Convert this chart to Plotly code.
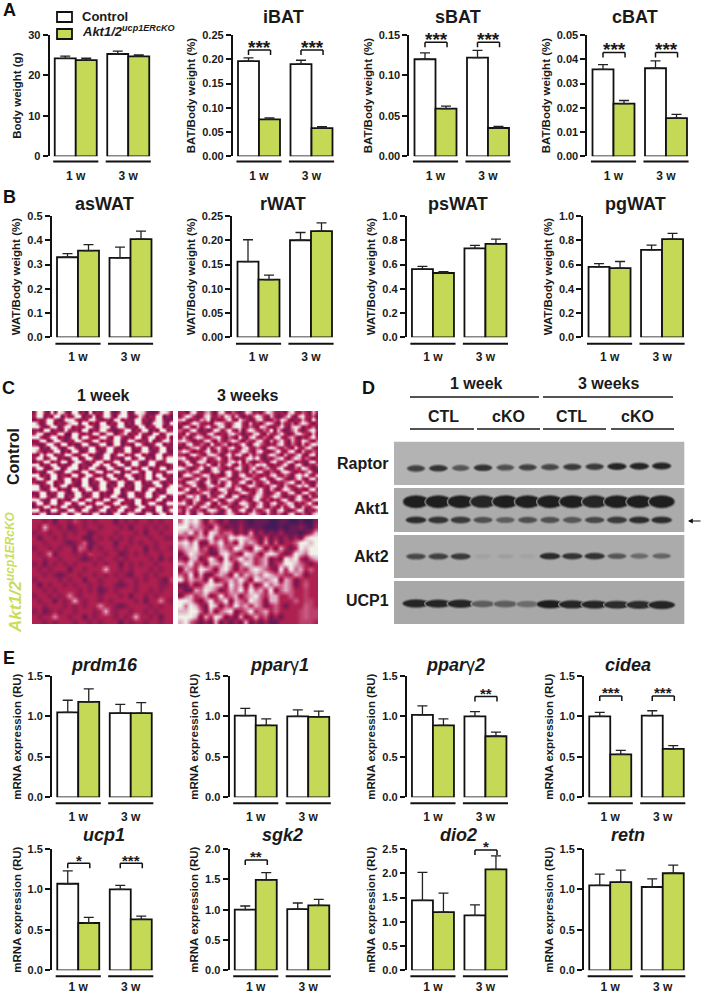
#Multi panel figure: body weight, fat depots, histology, western blot and mRNA expression
import plotly.graph_objects as go

W = 703
H = 994
FONT = "Liberation Sans"
GREEN = "#C5D957"
DARK = "#1a1a1a"

weeks = ["1 w", "3 w"]

################################################# bar values ##########################################
body_ctl = [24.2, 25.3]
body_ctl_err = [0.6, 0.7]
body_ko = [23.8, 24.7]
body_ko_err = [0.45, 0.35]

ibat_ctl = [0.196, 0.190]
ibat_ctl_err = [0.007, 0.008]
ibat_ko = [0.076, 0.058]
ibat_ko_err = [0.003, 0.003]

sbat_ctl = [0.120, 0.122]
sbat_ctl_err = [0.008, 0.009]
sbat_ko = [0.059, 0.035]
sbat_ko_err = [0.003, 0.002]

cbat_ctl = [0.0358, 0.0363]
cbat_ctl_err = [0.002, 0.003]
cbat_ko = [0.0217, 0.0157]
cbat_ko_err = [0.0013, 0.0016]

aswat_ctl = [0.330, 0.327]
aswat_ctl_err = [0.015, 0.045]
aswat_ko = [0.357, 0.405]
aswat_ko_err = [0.025, 0.033]

rwat_ctl = [0.156, 0.200]
rwat_ctl_err = [0.045, 0.016]
rwat_ko = [0.119, 0.219]
rwat_ko_err = [0.009, 0.017]

pswat_ctl = [0.562, 0.733]
pswat_ctl_err = [0.022, 0.025]
pswat_ko = [0.530, 0.770]
pswat_ko_err = [0.012, 0.040]

pgwat_ctl = [0.58, 0.72]
pgwat_ctl_err = [0.028, 0.040]
pgwat_ko = [0.57, 0.81]
pgwat_ko_err = [0.055, 0.047]

prdm16_ctl = [1.05, 1.04]
prdm16_ctl_err = [0.15, 0.11]
prdm16_ko = [1.18, 1.04]
prdm16_ko_err = [0.16, 0.13]

pparg1_ctl = [1.01, 1.00]
pparg1_ctl_err = [0.09, 0.08]
pparg1_ko = [0.89, 0.995]
pparg1_ko_err = [0.08, 0.07]

pparg2_ctl = [1.02, 1.00]
pparg2_ctl_err = [0.11, 0.06]
pparg2_ko = [0.89, 0.755]
pparg2_ko_err = [0.08, 0.05]

cidea_ctl = [1.00, 1.01]
cidea_ctl_err = [0.05, 0.06]
cidea_ko = [0.53, 0.60]
cidea_ko_err = [0.05, 0.04]

ucp1_ctl = [1.07, 1.00]
ucp1_ctl_err = [0.16, 0.05]
ucp1_ko = [0.585, 0.63]
ucp1_ko_err = [0.07, 0.04]

sgk2_ctl = [1.00, 1.01]
sgk2_ctl_err = [0.06, 0.10]
sgk2_ko = [1.49, 1.07]
sgk2_ko_err = [0.12, 0.10]

dio2_ctl = [1.44, 1.13]
dio2_ctl_err = [0.58, 0.22]
dio2_ko = [1.20, 2.08]
dio2_ko_err = [0.39, 0.28]

retn_ctl = [1.05, 1.03]
retn_ctl_err = [0.14, 0.10]
retn_ko = [1.09, 1.20]
retn_ko_err = [0.15, 0.10]

################################################# blot band darkness ##################################
raptor_bands = [0.75, 0.85, 0.60, 0.85, 0.65, 0.75, 0.70, 0.80, 0.80, 0.95, 0.95, 0.95]
akt1_top_bands = [1.0, 1.0, 1.0, 0.95, 1.0, 1.0, 1.0, 1.0, 0.95, 1.0, 1.0, 1.0]
akt1_low_bands = [0.90, 0.85, 0.80, 0.65, 0.55, 0.65, 0.65, 0.60, 0.70, 0.80, 0.90, 0.90]
akt2_bands = [0.70, 0.75, 0.80, 0.06, 0.08, 0.05, 0.90, 0.85, 0.85, 0.60, 0.45, 0.50]
ucp1_bands = [0.95, 0.95, 0.95, 0.55, 0.55, 0.45, 1.0, 0.95, 0.95, 0.90, 0.90, 0.95]

################################################# histology tones (0 dark .. 9 pale) ##################
ctl_1w_tissue = [
    "2993192983199230913299213991299831129973",
    "3991319915239913291399318992139513299131",
    "1323993129993132993123199132299231399212",
    "9513991323799199131991329913199312899319",
    "9931299139913229931899139931319913299132",
    "2319913229323199132993212399132991319923",
    "3992132991099313299139913591329321991399",
    "9931399131299199312993199313199139913291",
    "1299129931329931399132399129931329123993",
    "3213993199131299213991299132199312399132",
    "9913199312993132991329931399132991329913",
    "9531329913199213993139913299213993139921",
    "2193991329931399131299139913299131299133",
    "3991399131299129931399132199139913199399",
    "1329913299139931329912399132993129931399",
    "9913299131299132199399139912993139913213",
    "3992139913999132993129931299132991329913",
    "1321993129931399139913299132993199133299",
    "9913299132199129931329913199313299199132",
    "2993199139913299139913991329913299139913",
    "3123991329932199132993129931399132993132",
    "9913291399131299313991329913199312399139",
    "9931399132199139912993199132199139913299",
    "1299132993139913299131299139913299131299",
    "3199313991329931399132993129931399139913",
    "9932199132199129913299139913299132199132",
    "2991399139913991329931399132199139931299",
    "1329913299131329913299132993139913299133",
    "9913199312993199313991329913299132199139",
    "3299132199139913299131299139931299139913",
]
ctl_3w_tissue = [
    "3317932573179325313972315973231793253173",
    "2597312793253972731325973173125931793251",
    "7931327591312593195312793125397213273193",
    "3125973231797325993172315973173251597313",
    "1793172593279317993253197312593179713252",
    "5327931313972593271597325391731259313793",
    "3193253179313279531327931732593127953172",
    "2731597325793153193179325317932573132593",
    "7953132793173259731532793172593173297315",
    "3179325319325713259317953132793153172597",
    "1325793171593279317932531797325319327931",
    "5973132593273153259731793125932793173253",
    "3217953179731592793172531597317325931792",
    "7931325932593173132795931325793159725313",
    "2593179713253279591731253179325971321793",
    "3179325393172593173253979313259317931325",
    "9731259317953132793159325732793125397312",
    "3253793125971793253172793153179731325931",
    "1797325971321593179325313279325317959327",
    "5312593173259731325973279315973125931793",
    "3179731593172593279317325931325793173215",
    "7325931279531792531597313279317325959317",
    "2593173253179732793132593173159731321793",
    "9731325971325913259731793125932793179325",
    "3179593173279317931325973259731325931723",
    "2532793125931597325317932513279317953179",
    "7931732593173253179731593179325971325931",
    "3259317951327931325932793153172593173279",
    "5173253179731593279317325931793125971325",
    "3293179325312597313279531732531793253179",
]
ko_1w_tissue = [
    "3323133243232333132323323233",
    "3273323123233233323133232323",
    "2332332323312333233323133233",
    "3133232333113232323233323322",
    "3323332123512333133232332333",
    "2332323315413233232333132332",
    "3236133323243323312323233233",
    "3323323332123233232333323132",
    "2313232323332323313232332333",
    "3232333133233373323233323233",
    "3323212332332323232133232333",
    "2333323233133233323323233214",
    "3132332323323233212323333223",
    "3323233332323123233323323233",
    "2332323632333233323133232333",
    "3233132373233232333323133632",
    "3323332323233633212333323233",
    "2312323323332373233233232333",
    "3233633233132333232373323133",
    "3323233323323233313233233233",
]
ko_3w_tissue = [
    "5979515313112101110011001002",
    "9957531731213111100010112103",
    "7593719735513171312131110137",
    "3515759353979753151313131799",
    "7959117593519575171513359979",
    "5779351375397319715173139799",
    "1597531179531975179731397599",
    "3177139519359573571319793157",
    "7593517759715973571359975313",
    "1753975179515379753193957353",
    "5391711575193757597553375133",
    "9375519135759519757917513433",
    "1151379772957171395757513533",
    "3117597513759395739157533433",
    "1573571393571579537733533433",
    "9973159359175397517733353443",
    "9597319715395737513531333543",
    "7799517157913593573533334544",
    "9997173971317137351313334544",
    "7953131713131713131133334443",
]

tissue_scale = [
    [0.0, "#431a58"], [0.2, "#831a52"], [0.33, "#ad1f4e"], [0.55, "#c95c84"],
    [0.77, "#dfb0c4"], [1.0, "#f0f4e8"],
]


def px_x(x):
    return x / W


def px_y(y):
    return 1 - y / H


def text(x, y, s, size=12, color=DARK, angle=0, xanchor="center"):
    return dict(x=px_x(x), y=px_y(y), xref="paper", yref="paper", text=s, showarrow=False,
                font=dict(family=FONT, size=size, color=color), textangle=angle,
                xanchor=xanchor, yanchor="middle")


def paper_line(x0, x1, y, width=1.5):
    return dict(type="line", xref="paper", yref="paper", x0=px_x(x0), x1=px_x(x1), y0=px_y(y), y1=px_y(y),
                line=dict(color=DARK, width=width))


fig = go.Figure()
shapes = []
annotations = []
layout = {}
GROUP_SPAN = 105
ROW_H = 121.3


################################################# bar panels ##########################################
#left is the pixel of the y axis, top is the pixel of the axis maximum
def add_panel(n, title, title_x, title_y, ylabel, ctl, ctl_err, ko, ko_err, ymax, step, fmt, left, top, base_y, sig=(), standoff=11):
    xa, ya = "x%d" % n, "y%d" % n
    for vals, errs, color, name in [(ctl, ctl_err, "white", "Control"), (ko, ko_err, GREEN, "Akt1/2 ucp1ERcKO")]:
        fig.add_trace(go.Bar(x=weeks, y=vals, name=name, xaxis=xa, yaxis=ya, showlegend=False,
                             marker=dict(color=color, line=dict(color="#111111", width=1.8)),
                             error_y=dict(type="data", array=errs, arrayminus=[0, 0], color="#222222",
                                          thickness=1.3, width=5)))
    layout["xaxis%d" % n] = dict(domain=[px_x(left), px_x(left + GROUP_SPAN)], anchor=ya, range=[-0.5, 1.5],
                                 type="category", showline=False, showgrid=False, zeroline=False, ticks="",
                                 ticklabelstandoff=standoff, fixedrange=True,
                                 tickfont=dict(family=FONT, size=12, color=DARK, weight="bold"))
    layout["yaxis%d" % n] = dict(domain=[px_y(top + ROW_H), px_y(top)], anchor=xa, range=[0, ymax], dtick=step,
                                 tick0=0, tickformat=fmt, showgrid=False, zeroline=False, showline=True,
                                 linecolor="#111111", linewidth=1.8, ticks="outside", ticklen=5, tickwidth=1.8,
                                 tickcolor="#111111", fixedrange=True,
                                 tickfont=dict(family=FONT, size=11, color=DARK, weight="bold"),
                                 title=dict(text="<b>%s</b>" % ylabel, standoff=4,
                                            font=dict(family=FONT, size=11.5, color=DARK)))
    annotations.append(text(title_x, title_y, title, size=18))
    #the thick rule under each week group
    for g in [0, 1]:
        shapes.append(dict(type="line", xref=xa, yref="paper", x0=g - 0.43, x1=g + 0.43,
                           y0=px_y(base_y), y1=px_y(base_y), line=dict(color="#111111", width=2)))
    #significance brackets
    leg = ymax * 5 / ROW_H
    for g, level, stars, size in sig:
        x0, x1 = g - 0.2, g + 0.22
        for sx0, sx1, sy0, sy1 in [(x0, x1, level, level), (x0, x0, level, level - leg), (x1, x1, level, level - leg)]:
            shapes.append(dict(type="line", xref=xa, yref=ya, x0=sx0, x1=sx1, y0=sy0, y1=sy1,
                               line=dict(color="#111111", width=1.5)))
        annotations.append(dict(x=g + 0.01, y=level, xref=xa, yref=ya, text="<b>%s</b>" % stars, showarrow=False,
                                font=dict(family=FONT, size=size, color=DARK), yanchor="middle", yshift=3))


TOP_A, BASE_A = 35, 161.5
TOP_B, BASE_B = 216, 343.7
TOP_E1, BASE_E1 = 676, 803.3
TOP_E2, BASE_E2 = 849, 976.3
BAT = "BAT/Body weight (%)"
WAT = "WAT/Body weight (%)"
RNA = "mRNA expression (RU)"

add_panel(1, "", 0, 0, "Body weight (g)", body_ctl, body_ctl_err, body_ko, body_ko_err, 30, 10, "d", 49.5, TOP_A, BASE_A)
add_panel(2, "<b>iBAT</b>", 283, 17, BAT, ibat_ctl, ibat_ctl_err, ibat_ko, ibat_ko_err, 0.25, 0.05, ".2f", 232.75, TOP_A, BASE_A,
          [(0, 0.219, "***", 19), (1, 0.219, "***", 19)])
add_panel(3, "<b>sBAT</b>", 458, 17, BAT, sbat_ctl, sbat_ctl_err, sbat_ko, sbat_ko_err, 0.15, 0.05, ".2f", 409.25, TOP_A, BASE_A,
          [(0, 0.141, "***", 19), (1, 0.141, "***", 19)])
add_panel(4, "<b>cBAT</b>", 635, 17, BAT, cbat_ctl, cbat_ctl_err, cbat_ko, cbat_ko_err, 0.05, 0.01, ".2f", 587.25, TOP_A, BASE_A,
          [(0, 0.0428, "***", 19), (1, 0.0428, "***", 19)])

add_panel(5, "<b>asWAT</b>", 104, 204, WAT, aswat_ctl, aswat_ctl_err, aswat_ko, aswat_ko_err, 0.5, 0.1, ".1f", 51.75, TOP_B, BASE_B)
add_panel(6, "<b>rWAT</b>", 283, 204, WAT, rwat_ctl, rwat_ctl_err, rwat_ko, rwat_ko_err, 0.25, 0.05, ".2f", 232.25, TOP_B, BASE_B)
add_panel(7, "<b>psWAT</b>", 458, 204, WAT, pswat_ctl, pswat_ctl_err, pswat_ko, pswat_ko_err, 1.0, 0.2, ".1f", 406.7, TOP_B, BASE_B)
add_panel(8, "<b>pgWAT</b>", 635, 204, WAT, pgwat_ctl, pgwat_ctl_err, pgwat_ko, pgwat_ko_err, 1.0, 0.2, ".1f", 583.3, TOP_B, BASE_B)

add_panel(9, "<b><i>prdm16</i></b>", 104, 665, RNA, prdm16_ctl, prdm16_ctl_err, prdm16_ko, prdm16_ko_err, 1.5, 0.5, ".1f", 52, TOP_E1, BASE_E1)
add_panel(10, "<b><i>ppar</i></b>γ<b><i>1</i></b>", 279, 665, RNA, pparg1_ctl, pparg1_ctl_err, pparg1_ko, pparg1_ko_err, 1.5, 0.5, ".1f", 229.5, TOP_E1, BASE_E1)
add_panel(11, "<b><i>ppar</i></b>γ<b><i>2</i></b>", 455, 665, RNA, pparg2_ctl, pparg2_ctl_err, pparg2_ko, pparg2_ko_err, 1.5, 0.5, ".1f", 406.7, TOP_E1, BASE_E1,
          [(1, 1.245, "**", 15)])
add_panel(12, "<b><i>cidea</i></b>", 628, 665, RNA, cidea_ctl, cidea_ctl_err, cidea_ko, cidea_ko_err, 1.5, 0.5, ".1f", 584, TOP_E1, BASE_E1,
          [(0, 1.253, "***", 15), (1, 1.253, "***", 15)])

#the last row sits close to the page edge, so its week labels stay a little nearer the bars
add_panel(13, "<b><i>ucp1</i></b>", 104, 835, RNA, ucp1_ctl, ucp1_ctl_err, ucp1_ko, ucp1_ko_err, 1.5, 0.5, ".1f", 52, TOP_E2, BASE_E2,
          [(0, 1.323, "*", 15), (1, 1.323, "***", 15)], standoff=8)
add_panel(14, "<b><i>sgk2</i></b>", 282, 835, RNA, sgk2_ctl, sgk2_ctl_err, sgk2_ko, sgk2_ko_err, 2.0, 0.5, ".1f", 229.5, TOP_E2, BASE_E2,
          [(0, 1.82, "**", 15)], standoff=8)
add_panel(15, "<b><i>dio2</i></b>", 458, 835, RNA, dio2_ctl, dio2_ctl_err, dio2_ko, dio2_ko_err, 2.5, 0.5, ".1f", 406.7, TOP_E2, BASE_E2,
          [(1, 2.48, "*", 15)], standoff=8)
add_panel(16, "<b><i>retn</i></b>", 628, 835, RNA, retn_ctl, retn_ctl_err, retn_ko, retn_ko_err, 1.5, 0.5, ".1f", 584, TOP_E2, BASE_E2, standoff=8)

#legend of panel A
shapes.append(dict(type="rect", xref="paper", yref="paper", x0=px_x(57), x1=px_x(72), y0=px_y(22), y1=px_y(12),
                   fillcolor="white", line=dict(color="#111111", width=1.8)))
shapes.append(dict(type="rect", xref="paper", yref="paper", x0=px_x(57), x1=px_x(72), y0=px_y(39), y1=px_y(29),
                   fillcolor=GREEN, line=dict(color="#111111", width=1.8)))
annotations.append(text(80, 16.5, "<b>Control</b>", size=13, xanchor="left"))
annotations.append(text(80, 31, "<b><i>Akt1/2<sup>ucp1ERcKO</sup></i></b>", size=13, xanchor="left"))

#panel letters
for letter, lx, ly in [("A", 9, 10), ("B", 9, 196.5), ("C", 8, 388), ("D", 368.5, 388), ("E", 8.5, 657.5)]:
    annotations.append(text(lx, ly, "<b>%s</b>" % letter, size=18, color="#111111"))

################################################# panel C ##############################################
tissues = [(ctl_1w_tissue, 32, 173, 411, 515), (ctl_3w_tissue, 178, 318, 411, 515),
           (ko_1w_tissue, 32, 173, 519, 624), (ko_3w_tissue, 178, 318, 519, 624)]
for i, (rows, x0, x1, y0, y1) in enumerate(tissues):
    n = 17 + i
    fig.add_trace(go.Heatmap(z=[[int(c) for c in row] for row in rows], xaxis="x%d" % n, yaxis="y%d" % n,
                             colorscale=tissue_scale, zmin=0, zmax=9, showscale=False, zsmooth="best",
                             hoverinfo="skip"))
    layout["xaxis%d" % n] = dict(domain=[px_x(x0), px_x(x1)], anchor="y%d" % n, visible=False, fixedrange=True)
    layout["yaxis%d" % n] = dict(domain=[px_y(y1), px_y(y0)], anchor="x%d" % n, visible=False, fixedrange=True,
                                 autorange="reversed")
annotations.append(text(103, 396, "<b>1 week</b>", size=16))
annotations.append(text(247, 396, "<b>3 weeks</b>", size=16))
annotations.append(text(14, 457, "<b>Control</b>", size=16, angle=-90))
annotations.append(text(14, 572, "<b><i>Akt1/2<sup>ucp1ERcKO</sup></i></b>", size=17, color="#C9DD5C", angle=-90))

################################################# panel D ##############################################
LANE0, LANE_STEP = 416, 22.33


def add_bands(levels, y_left, y_right, band_w, band_h):
    for i, d in enumerate(levels):
        cx = LANE0 + LANE_STEP * i
        cy = y_left + (y_right - y_left) * i / 11
        w = band_w * (0.72 + 0.28 * d)
        h = band_h * (0.6 + 0.4 * d)
        #three nested ellipses give the band a soft edge
        for bw, bh, g in [(w + 2, h + 2, int(170 - 35 * d)), (w, h, int(170 - 90 * d)), (w - 2, h - 2, int(170 - 140 * d))]:
            shapes.append(dict(type="circle", xref="paper", yref="paper", x0=px_x(cx - bw / 2), x1=px_x(cx + bw / 2),
                               y0=px_y(cy + bh / 2), y1=px_y(cy - bh / 2),
                               fillcolor="rgb(%d,%d,%d)" % (g, g, g), line=dict(width=0)))


for y0, y1, grey in [(441.7, 485, "#b3b3b3"), (488, 532, "#ababab"), (535, 578, "#ababab"), (581, 624, "#a8a8a8")]:
    shapes.append(dict(type="rect", xref="paper", yref="paper", x0=px_x(394), x1=px_x(684.3), y0=px_y(y1), y1=px_y(y0),
                       fillcolor=grey, line=dict(width=0)))
add_bands(raptor_bands, 468.5, 466, 19, 7)
add_bands(akt1_top_bands, 501.7, 501.7, 26, 13)
add_bands(akt1_low_bands, 520, 520, 21, 7.5)
add_bands(akt2_bands, 556.5, 556, 21, 7)
add_bands(ucp1_bands, 603.5, 605, 27, 8.5)

for label, ly in [("Raptor", 464), ("Akt1", 508), ("Akt2", 556), ("UCP1", 600)]:
    annotations.append(text(391, ly, "<b>%s</b>" % label, size=16, xanchor="right"))
annotations.append(dict(x=px_x(688), y=px_y(521), ax=14, ay=0, xref="paper", yref="paper",
                        axref="pixel", ayref="pixel", text="", showarrow=True, arrowhead=2, arrowsize=0.8,
                        arrowwidth=1.2, arrowcolor="#111111"))
annotations.append(text(476, 383, "<b>1 week</b>", size=16))
annotations.append(text(608, 383, "<b>3 weeks</b>", size=16))
shapes.append(paper_line(410, 539, 397))
shapes.append(paper_line(543, 673, 397))
for label, lx, x0, x1 in [("CTL", 443, 410, 474), ("cKO", 508, 477, 540), ("CTL", 571, 543, 606), ("cKO", 637, 611, 674)]:
    annotations.append(text(lx, 417, "<b>%s</b>" % label, size=16))
    shapes.append(paper_line(x0, x1, 429))

fig.update_layout(width=W, height=H, margin=dict(l=0, r=0, t=0, b=0, autoexpand=False), paper_bgcolor="white",
                  plot_bgcolor="white", barmode="group", bargap=0.2, bargroupgap=0, showlegend=False, shapes=shapes,
                  annotations=[a for a in annotations if a["text"] != "" or a["showarrow"]],
                  font=dict(family=FONT, color=DARK), **layout)
fig.write_html("out.html", config=dict(displayModeBar=False),
               post_script="document.body.style.margin='0';document.documentElement.style.overflow='hidden';")
